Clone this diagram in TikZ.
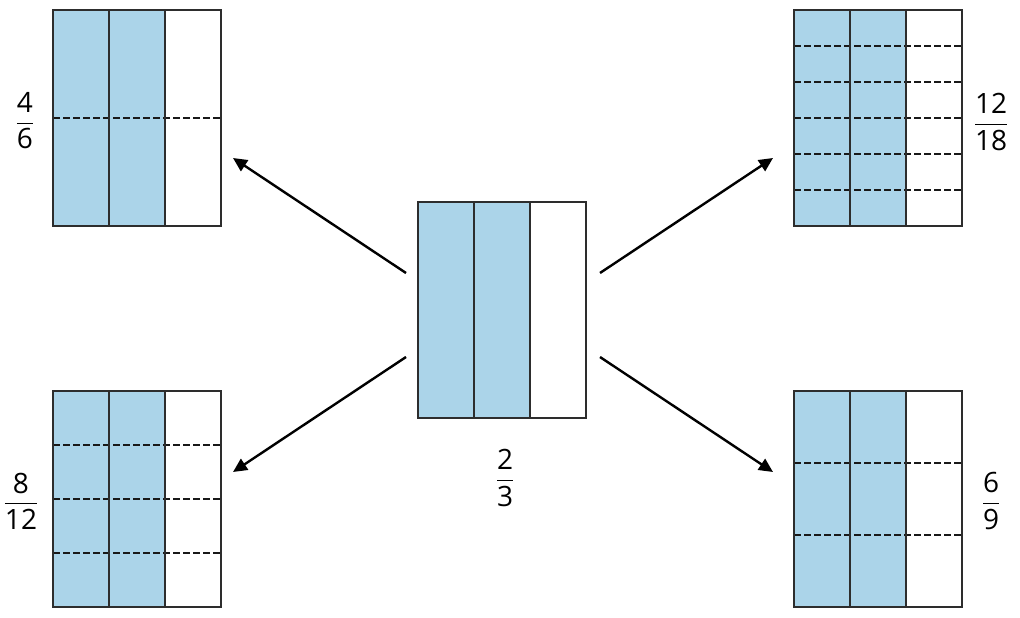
\documentclass[tikz,border=0pt]{standalone}
\usepackage{fontspec}
\setmainfont{Open Sans}
\usetikzlibrary{arrows.meta}
\definecolor{fracblue}{RGB}{171,212,233}
\definecolor{edge}{RGB}{45,45,45}
\tikzset{
  border/.style={draw=edge,line width=2.4pt,minimum width=168pt,minimum height=216pt,inner sep=0pt,outer sep=0pt,anchor=north west},
  colline/.style={draw=edge,line width=2pt},
  rowline/.style={draw=black!90,line width=2.8pt,dash pattern=on 6.5pt off 3.5pt},
  conn/.style={draw=black,line width=2.4pt,-{Triangle[length=14pt,width=13pt]}},
  fraclab/.style={font=\fontsize{28}{32}\selectfont,inner sep=0pt}
}
\newcommand\frbox[3]{%
  \fill[fracblue] (#2,#3) rectangle ++(112,216);
}
\newcommand\frcols[3]{%
  \draw[colline] (#2+56,#3) -- ++(0,216);
  \draw[colline] (#2+112,#3) -- ++(0,216);
  \node[border] (#1) at (#2,#3) {};
}
\newcommand\myfr[2]{$\displaystyle{\mbox{#1}\above1.5pt\mbox{#2}}$}
\begin{document}
\begin{tikzpicture}[x=1pt,y=-1pt]
\useasboundingbox (0,0) rectangle (1020,618);
\fill[white] (0,0) rectangle (1020,618);
% top-left 4/6
\frbox{tl}{53}{10}
\foreach \d in {108} \draw[rowline] (53,10+\d) -- ++(168,0);
\frcols{tl}{53}{10}
% top-right 12/18
\frbox{tr}{794}{10}
\foreach \d in {36,72,108,144,180} \draw[rowline] (794,10+\d) -- ++(168,0);
\frcols{tr}{794}{10}
% bottom-left 8/12
\frbox{bl}{53}{391}
\foreach \d in {54,108,162} \draw[rowline] (53,391+\d) -- ++(168,0);
\frcols{bl}{53}{391}
% bottom-right 6/9
\frbox{br}{794}{391}
\foreach \d in {72,144} \draw[rowline] (794,391+\d) -- ++(168,0);
\frcols{br}{794}{391}
% centre 2/3
\frbox{c}{418}{202}
\frcols{c}{418}{202}
% labels
\node[fraclab] (ltl) at (25,121) {\myfr{4}{6}};
\node[fraclab] (ltr) at (991,122) {\myfr{12}{18}};
\node[fraclab] (lbl) at (21,501) {\myfr{8}{12}};
\node[fraclab] (lbr) at (991,501) {\myfr{6}{9}};
\node[fraclab] (lc) at (505,478) {\myfr{2}{3}};
% arrows
\coordinate (s1) at (406,273); \coordinate (e1) at (233,158);
\coordinate (s2) at (600,273); \coordinate (e2) at (773,158);
\coordinate (s3) at (406,357); \coordinate (e3) at (233,472);
\coordinate (s4) at (600,357); \coordinate (e4) at (773,472);
\draw[conn] (s1) -- (e1);
\draw[conn] (s2) -- (e2);
\draw[conn] (s3) -- (e3);
\draw[conn] (s4) -- (e4);
\end{tikzpicture}
\end{document}
